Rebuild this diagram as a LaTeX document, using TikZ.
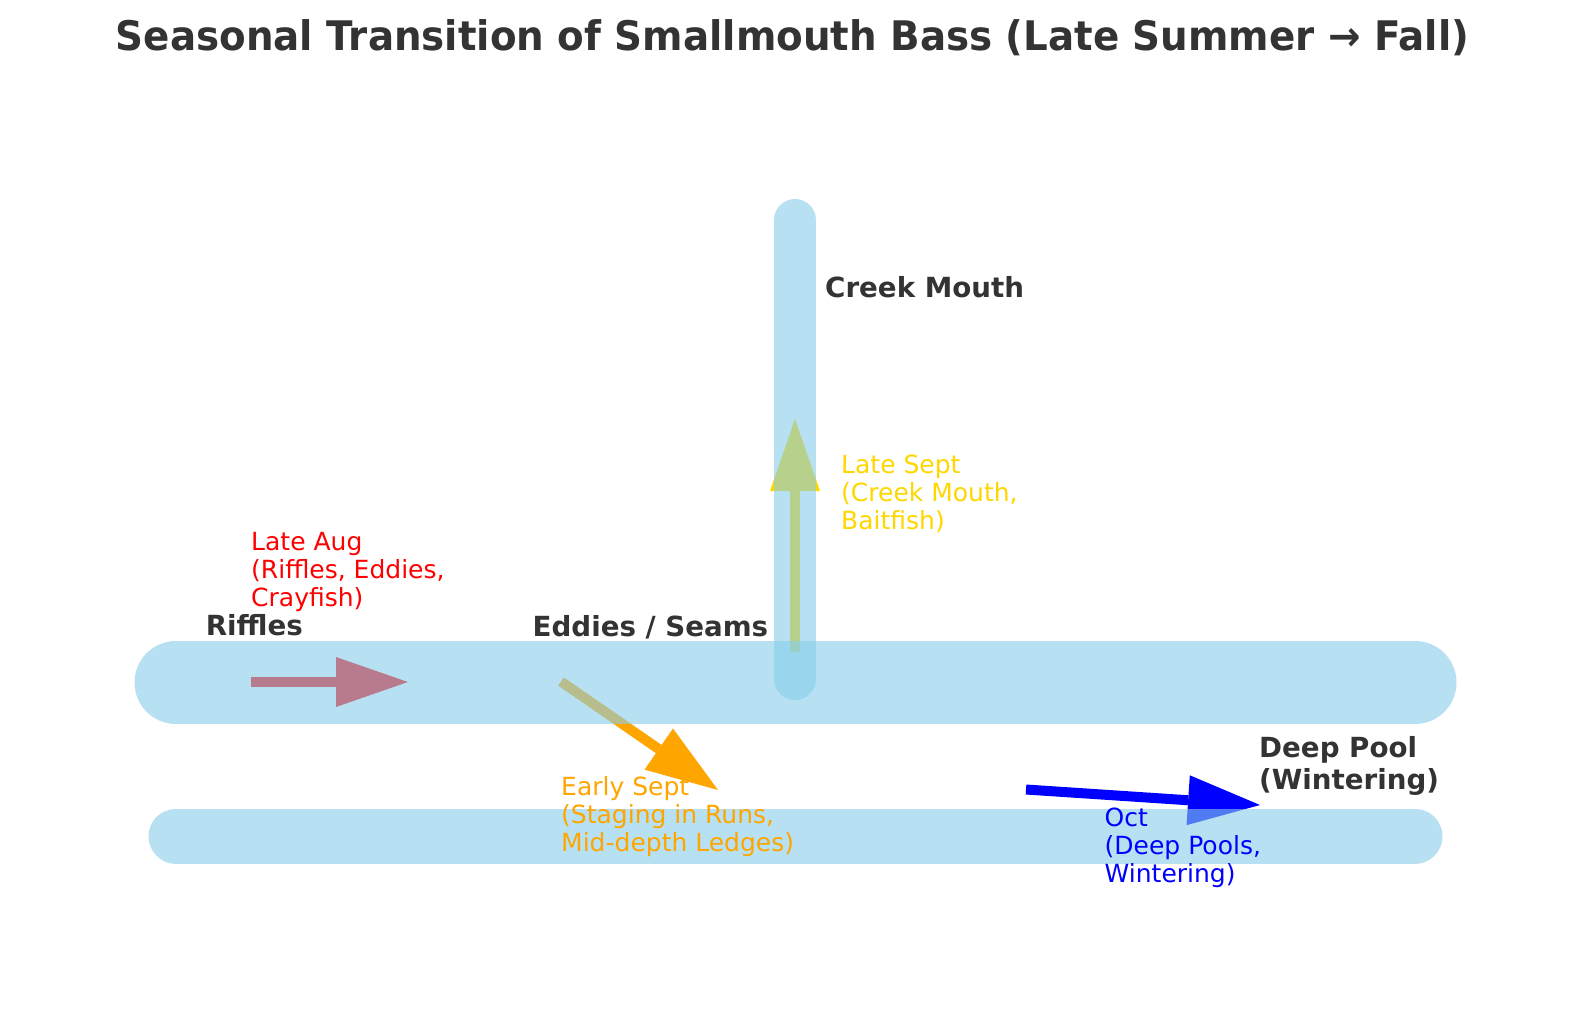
\documentclass[tikz,border=0pt]{standalone}
\usepackage{fontspec}
\setmainfont{DejaVu Sans}
\usetikzlibrary{calc}
\definecolor{skyblue}{RGB}{135,206,235}
\definecolor{labelgray}{HTML}{333333}
\definecolor{mplorange}{HTML}{FFA500}
\definecolor{mplgold}{HTML}{FFD700}
\definecolor{mplred}{HTML}{FF0000}
\definecolor{mplblue}{HTML}{0000FF}
\tikzset{
  river/.style={draw=skyblue, draw opacity=0.6, line cap=round},
  lbl/.style={anchor=base west, inner sep=0pt, text=labelgray, font=\fontsize{27.7}{32}\selectfont\bfseries},
  note/.style={anchor=base west, inner sep=0pt, font=\fontsize{25}{28}\selectfont},
  shaft/.style={line width=10pt},
}
\newcommand{\mplarrow}[3]{%
  \coordinate (#1-hb) at ($(#2)!72pt!(#1)$);
  \draw[shaft, draw=#3] (#1) -- (#1-hb);
  \fill[#3] (#2) -- ($(#1-hb)!25pt!90:(#2)$) -- ($(#1-hb)!25pt!-90:(#2)$) -- cycle;
}
\newcommand{\mllines}[1]{\begin{tabular}[t]{@{}l@{}}#1\end{tabular}}
\begin{document}
\begin{tikzpicture}[x=1pt,y=-1pt]
\useasboundingbox (0,0) rectangle (1589,1010);
\fill[white] (0,0) rectangle (1589,1010);
% coordinates
\coordinate (mainW) at (176,682.5);
\coordinate (mainE) at (1415,682.5);
\coordinate (lowW) at (176,836);
\coordinate (lowE) at (1415,836);
\coordinate (creekS) at (795,679);
\coordinate (creekN) at (795,220);
\coordinate (redS) at (251,682);
\coordinate (redT) at (408,682);
\coordinate (orS) at (561,681.5);
\coordinate (orT) at (718,790);
\coordinate (goS) at (795,652);
\coordinate (goT) at (795,419);
\coordinate (blS) at (1026,789.5);
\coordinate (blT) at (1260,805);
% arrows
\mplarrow{redS}{redT}{mplred}
\mplarrow{orS}{orT}{mplorange}
\mplarrow{goS}{goT}{mplgold}
\mplarrow{blS}{blT}{mplblue}
% rivers
\draw[river, line width=83pt] (mainW) -- (mainE);
\draw[river, line width=55pt] (lowW) -- (lowE);
\draw[river, line width=42pt] (creekS) -- (creekN);
% labels
\node[anchor=base, inner sep=0pt, text=labelgray, font=\fontsize{38.8}{46}\selectfont\bfseries] (title) at (792.5,50) {\scalebox{1}[1.05]{Seasonal Transition of Smallmouth Bass (Late Summer → Fall)}};
\node[lbl] (riffles) at (205.7,635.7) {Riffles};
\node[lbl] (eddies) at (532.5,636) {Eddies / Seams};
\node[lbl] (creek) at (825,297.7) {Creek Mouth};
\node[lbl] (deep) at (1259,757.7) {\mllines{Deep Pool\\(Wintering)}};
\node[note, text=mplred] (lateaug) at (251,550) {\mllines{Late Aug\\(Riffles, Eddies,\\Crayfish)}};
\node[note, text=mplgold] (latesept) at (841,473.3) {\mllines{Late Sept\\(Creek Mouth,\\Baitfish)}};
\node[note, text=mplorange] (earlysept) at (561,795.7) {\mllines{Early Sept\\(Staging in Runs,\\Mid-depth Ledges)}};
\node[note, text=mplblue] (oct) at (1104.5,826) {\mllines{Oct\\(Deep Pools,\\Wintering)}};
\end{tikzpicture}
\end{document}
